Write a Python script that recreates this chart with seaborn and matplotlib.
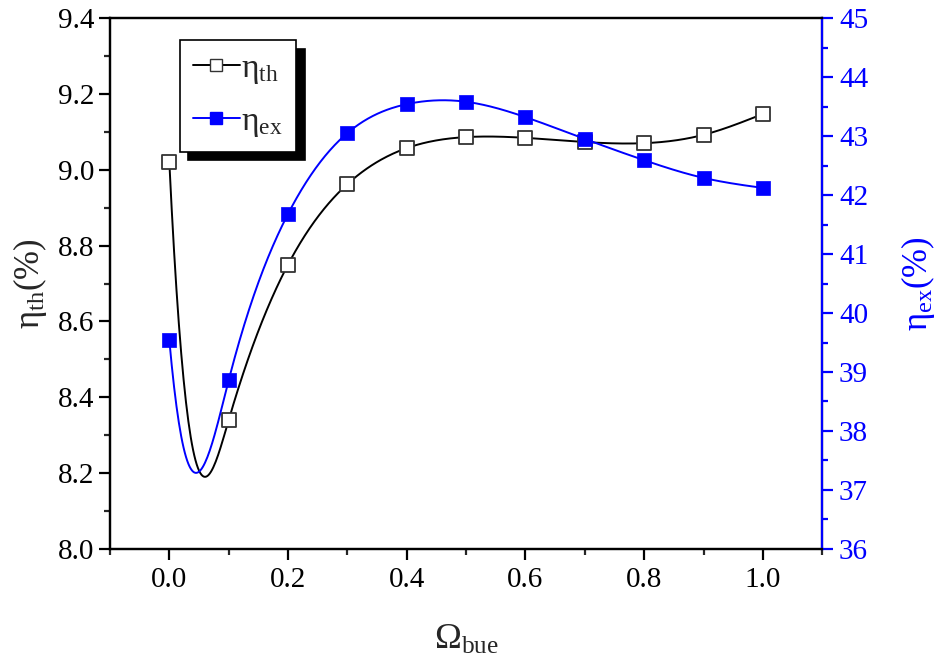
import matplotlib
matplotlib.use("Agg")
import matplotlib.pyplot as plt
from matplotlib.lines import Line2D
from matplotlib.ticker import MultipleLocator, FormatStrFormatter
import numpy as np
import pandas as pd
import seaborn as sns

# values
omega_bue = [0.0, 0.1, 0.2, 0.3, 0.4, 0.5, 0.6, 0.7, 0.8, 0.9, 1.0]
eta_th = [9.02, 8.34, 8.75, 8.962, 9.057, 9.086, 9.084, 9.073, 9.07, 9.092, 9.147]
eta_ex = [39.54, 38.86, 41.68, 43.05, 43.54, 43.58, 43.32, 42.95, 42.59, 42.29, 42.12]

# start slope of the connecting spline (the original curve leaves the first point almost vertically)
start_slope_th = -32.5
start_slope_ex = -112.0

BLUE = "#0000ff"

sns.set_theme(style="ticks")
plt.rcParams["font.family"] = ["Liberation Serif", "DejaVu Serif"]
plt.rcParams["mathtext.fontset"] = "custom"
plt.rcParams["mathtext.rm"] = "Liberation Serif"
plt.rcParams["mathtext.it"] = "Liberation Serif:italic"
plt.rcParams["xtick.direction"] = "out"
plt.rcParams["ytick.direction"] = "out"


def spline_curve(x, y, m0, n=500):
    # cubic spline: clamped slope at the left end, natural at the right end
    x = np.asarray(x, dtype=float)
    y = np.asarray(y, dtype=float)
    k = len(x)
    h = np.diff(x)
    A = np.zeros((k, k))
    rhs = np.zeros(k)
    A[0, 0] = 2 * h[0]
    A[0, 1] = h[0]
    rhs[0] = 3 * ((y[1] - y[0]) / h[0] - m0)
    A[-1, -1] = 1.0
    for i in range(1, k - 1):
        A[i, i - 1] = h[i - 1]
        A[i, i] = 2 * (h[i - 1] + h[i])
        A[i, i + 1] = h[i]
        rhs[i] = 3 * ((y[i + 1] - y[i]) / h[i] - (y[i] - y[i - 1]) / h[i - 1])
    c = np.linalg.solve(A, rhs)
    b = (y[1:] - y[:-1]) / h - h * (2 * c[:-1] + c[1:]) / 3
    d = (c[1:] - c[:-1]) / (3 * h)
    xs = np.linspace(x[0], x[-1], n)
    idx = np.clip(np.searchsorted(x, xs) - 1, 0, k - 2)
    dx = xs - x[idx]
    return xs, y[idx] + b[idx] * dx + c[idx] * dx ** 2 + d[idx] * dx ** 3


df = pd.DataFrame({"omega": omega_bue, "eta_th": eta_th, "eta_ex": eta_ex})
cx_th, cy_th = spline_curve(omega_bue, eta_th, start_slope_th)
cx_ex, cy_ex = spline_curve(omega_bue, eta_ex, start_slope_ex)
curve_th = pd.DataFrame({"omega": cx_th, "eta_th": cy_th})
curve_ex = pd.DataFrame({"omega": cx_ex, "eta_ex": cy_ex})

fig = plt.figure(figsize=(9.44, 6.62), dpi=100)
ax = fig.add_axes([0.1165, 0.1707, 0.7545, 0.8021])
ax2 = ax.twinx()

sns.lineplot(data=curve_th, x="omega", y="eta_th", ax=ax, color="black", linewidth=1.4,
             sort=False, estimator=None, zorder=2)
sns.scatterplot(data=df, x="omega", y="eta_th", ax=ax, marker="s", s=110,
                facecolor="white", edgecolor="#333333", linewidth=1.3, zorder=3)
sns.lineplot(data=curve_ex, x="omega", y="eta_ex", ax=ax2, color=BLUE, linewidth=1.4,
             sort=False, estimator=None, zorder=2)
sns.scatterplot(data=df, x="omega", y="eta_ex", ax=ax2, marker="s", s=110,
                color=BLUE, edgecolor=BLUE, linewidth=0.5, zorder=3)

ax.set_xlim(-0.1, 1.1)
ax.set_ylim(8.0, 9.4)
ax2.set_ylim(36, 45)
ax.xaxis.set_major_locator(MultipleLocator(0.2))
ax.xaxis.set_minor_locator(MultipleLocator(0.1))
ax.yaxis.set_major_locator(MultipleLocator(0.2))
ax.yaxis.set_minor_locator(MultipleLocator(0.1))
ax2.yaxis.set_major_locator(MultipleLocator(1))
ax2.yaxis.set_minor_locator(MultipleLocator(0.5))
ax.xaxis.set_major_formatter(FormatStrFormatter("%.1f"))
ax.yaxis.set_major_formatter(FormatStrFormatter("%.1f"))

for a in (ax, ax2):
    for sp in a.spines.values():
        sp.set_linewidth(1.6)
        sp.set_color("black")
        sp.set_visible(True)
ax2.spines["right"].set_color(BLUE)

ax.tick_params(axis="both", which="major", length=8, width=1.6, labelsize=21, colors="black")
ax.tick_params(axis="both", which="minor", length=4.5, width=1.6)
ax.tick_params(axis="x", pad=5)
ax2.tick_params(axis="y", which="major", length=8, width=1.6, labelsize=21, colors=BLUE, pad=4)
ax2.tick_params(axis="y", which="minor", length=4.5, width=1.6, colors=BLUE)

ax.set_xlabel(r"$\mathrm{\Omega_{bue}}$", fontsize=26, labelpad=22)
ax.set_ylabel(r"$\mathrm{\eta_{th}(\%)}$", fontsize=25, labelpad=6)
ax2.set_ylabel(r"$\mathrm{\eta_{ex}(\%)}$", fontsize=25, color=BLUE, labelpad=22)

handles = [
    Line2D([], [], color="black", linewidth=1.4, marker="s", markersize=8,
           markerfacecolor="white", markeredgecolor="#333333"),
    Line2D([], [], color=BLUE, linewidth=1.4, marker="s", markersize=8,
           markerfacecolor=BLUE, markeredgecolor=BLUE),
]
leg = ax2.legend(handles, [r"$\mathrm{\eta_{th}}$", r"$\mathrm{\eta_{ex}}$"],
                 loc="upper left", bbox_to_anchor=(0.098, 0.958), fontsize=24,
                 frameon=True, fancybox=False, edgecolor="black", framealpha=1,
                 shadow={"color": "black", "alpha": 1, "ox": 6, "oy": -6},
                 handlelength=1.4, handletextpad=0.05, borderpad=0.4, labelspacing=0.6,
                 borderaxespad=0)
leg.get_frame().set_linewidth(1.2)

fig.savefig("out.png", dpi=100)
